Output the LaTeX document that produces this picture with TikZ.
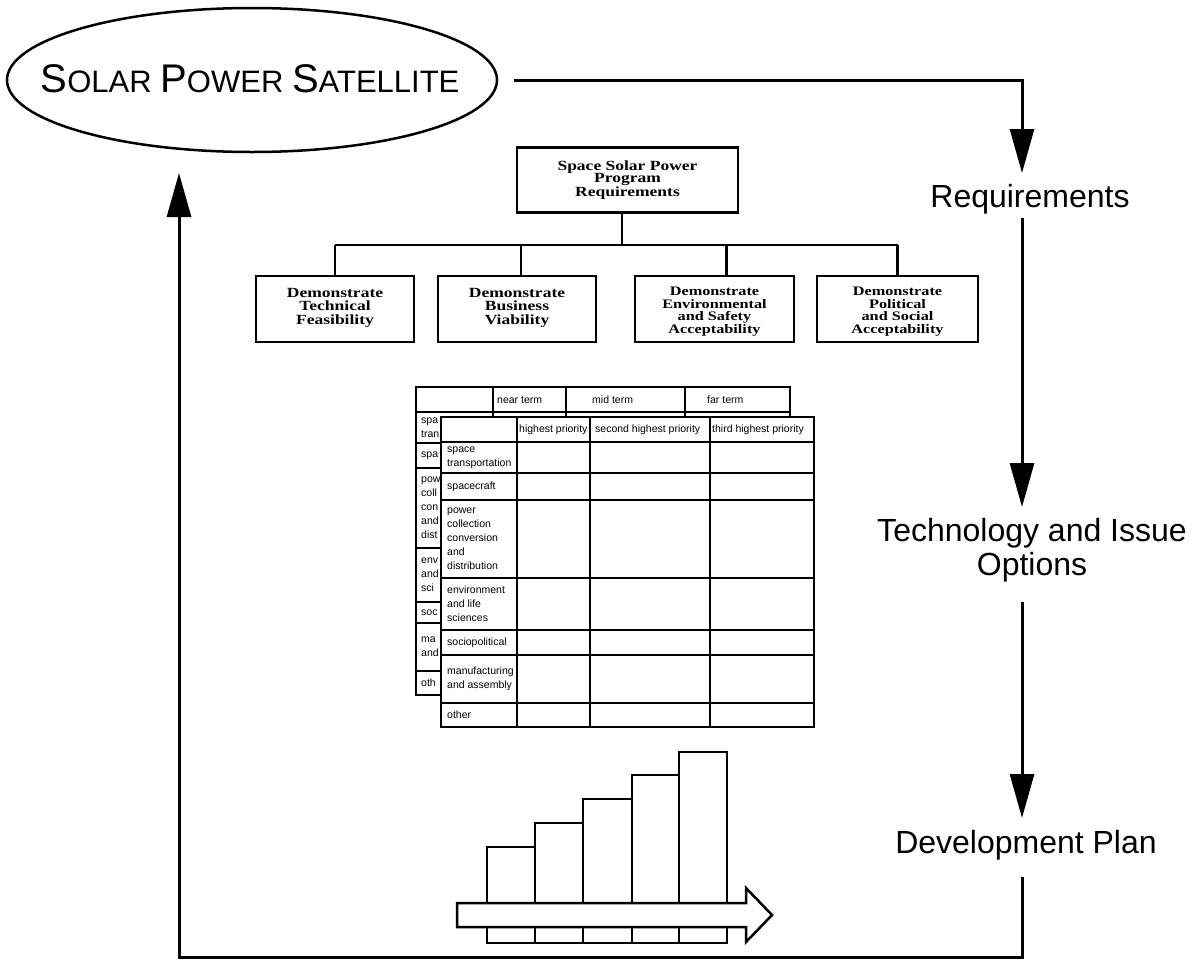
\documentclass[tikz,border=0pt]{standalone}
\usepackage{fontspec}
\setmainfont{Liberation Sans}
\newfontfamily\hfont[FakeStretch=1.25]{Liberation Serif}
\usetikzlibrary{arrows.meta,shapes.geometric}
\begin{document}
\begin{tikzpicture}[x=1pt,y=-1pt,
  conn/.style={line width=3pt},
  arr/.style={-{Triangle[length=44pt,width=24pt]}},
  hbox/.style={draw, line width=2.2pt, inner sep=0pt},
  hl/.style={line width=2.2pt},
  htext/.style={font=\hfont\bfseries\fontsize{14}{13.5}\selectfont, align=center, inner sep=0pt},
  htextb/.style={font=\hfont\bfseries\fontsize{13}{12.5}\selectfont, align=center, inner sep=0pt},
  tbl/.style={line width=1.8pt},
  ttext/.style={font=\fontsize{10.5}{14}\selectfont, align=left, inner sep=0pt, anchor=west},
  lbl/.style={font=\fontsize{32}{34}\selectfont, align=center, inner sep=0pt},
  bar/.style={draw, line width=2.8pt, fill=white}
]
\useasboundingbox (0,0) rectangle (1196,964);
\fill[white] (0,0) rectangle (1196,964);

% ---- ellipse
\node[draw, ellipse, line width=2.5pt, minimum width=490pt, minimum height=144pt, inner sep=0pt] (sps) at (252,80) {};
\node[anchor=base, inner sep=0pt] (spst) at (250,92) {\fontsize{40}{40}\selectfont S\fontsize{31}{31}\selectfont OLAR \fontsize{40}{40}\selectfont P\fontsize{31}{31}\selectfont OWER \fontsize{40}{40}\selectfont S\fontsize{31}{31}\selectfont ATELLITE};

% ---- right labels
\node[lbl, anchor=base] (req) at (1030,207) {Requirements};
\node[lbl] (tech) at (1032,550) {Technology and Issue\\Options};
\node[lbl, anchor=base] (dev) at (1026,853) {Development Plan};

% ---- cycle connectors
\coordinate (t1) at (1022,173);
\coordinate (s2) at (1022,218);
\coordinate (t2) at (1022,507);
\coordinate (s3) at (1022,602);
\coordinate (t3) at (1022,818);
\coordinate (s4) at (1022,877);
\coordinate (b2) at (179,957);
\coordinate (t4) at (179,173);
\draw[conn,arr] ([xshift=16pt]sps.east) -| (t1);
\draw[conn,arr] (s2) -- (t2);
\draw[conn,arr] (s3) -- (t3);
\draw[conn,arr] (s4) |- (b2) -- (t4);

% ---- hierarchy
\node[hbox, minimum width=221pt, minimum height=65pt, htext, font=\hfont\bfseries\fontsize{14}{12.5}\selectfont] (ssp) at (627.5,180) {Space Solar Power\\Program\\Requirements};
\node[hbox, minimum width=158pt, minimum height=66pt] (d1) at (335,309) {};
\node[hbox, minimum width=158pt, minimum height=66pt] (d2) at (517,309) {};
\node[hbox, minimum width=159pt, minimum height=66pt] (d3) at (714.5,309) {};
\node[hbox, minimum width=161pt, minimum height=66pt] (d4) at (897.5,309) {};
\node[htext, anchor=north] (d1t) at ([yshift=-13pt]d1.north) {Demonstrate\\Technical\\Feasibility};
\node[htext, anchor=north] (d2t) at ([yshift=-13pt]d2.north) {Demonstrate\\Business\\Viability};
\node[htextb, anchor=north] (d3t) at ([yshift=-12pt]d3.north) {Demonstrate\\Environmental\\and Safety\\Acceptability};
\node[htextb, anchor=north] (d4t) at ([yshift=-12pt]d4.north) {Demonstrate\\Political\\and Social\\Acceptability};
\coordinate (hb) at (622,245);
\draw[hl] ([xshift=-5.5pt]ssp.south) -- (hb);
\draw[hl] (d1.north |- hb) -- (d4.north |- hb);
\draw[hl] (d1.north |- hb) -- (d1.north);
\draw[hl] ([xshift=4pt]d2.north |- hb) -- ([xshift=4pt]d2.north);
\draw[hl] ([xshift=12pt]d3.north |- hb) -- ([xshift=12pt]d3.north);
\draw[hl] (d4.north |- hb) -- (d4.north);

% ---- back table
\draw[tbl] (416,387) rectangle (790,695);
\foreach \yy in {412,443,468,548,602,623,671} \draw[tbl] (416,\yy) -- (790,\yy);
\foreach \xx in {493,566,685} \draw[tbl] (\xx,387) -- (\xx,695);
\node[ttext] (bh1) at (497,400) {near term};
\node[ttext] (bh2) at (592,400) {mid term};
\node[ttext] (bh3) at (707,400) {far term};
\begin{scope}
\clip (416,380) rectangle (441,700);
\node[ttext] (br1) at (421,427.5) {spa\\tran};
\node[ttext] (br2) at (421,455.5) {spa};
\node[ttext] (br3) at (421,508) {pow\\coll\\con\\and\\dist};
\node[ttext] (br4) at (421,575) {env\\and\\sci};
\node[ttext] (br5) at (421,612.5) {soc};
\node[ttext] (br6) at (421,647) {ma\\and};
\node[ttext] (br7) at (421,683) {oth};
\end{scope}

% ---- front table
\draw[tbl, fill=white] (441,417) rectangle (814,727);
\foreach \yy in {442,473,500,578,630,655,703} \draw[tbl] (441,\yy) -- (814,\yy);
\foreach \xx in {517,590,710} \draw[tbl] (\xx,417) -- (\xx,727);
\node[ttext] (fh1) at (519,430) {highest priority};
\node[ttext] (fh2) at (595,430) {second highest priority};
\node[ttext] (fh3) at (712,430) {third highest priority};
\node[ttext] (fr1) at (447,457.5) {space\\transportation};
\node[ttext] (fr2) at (447,486.5) {spacecraft};
\node[ttext] (fr3) at (447,539) {power\\collection\\conversion\\and\\distribution};
\node[ttext] (fr4) at (447,604) {environment\\and life\\sciences};
\node[ttext] (fr5) at (447,642.5) {sociopolitical};
\node[ttext] (fr6) at (447,679) {manufacturing\\and assembly};
\node[ttext] (fr7) at (447,715) {other};

% ---- bar chart
\draw[bar] (487,847) rectangle (535,943);
\draw[bar] (535,823) rectangle (583,943);
\draw[bar] (583,799) rectangle (632,943);
\draw[bar] (632,775) rectangle (679,943);
\draw[bar] (679,752) rectangle (727,943);
\draw[line width=2.5pt, fill=white, line join=miter] (457,903) -- (746,903) -- (746,888) -- (772,915) -- (746,942) -- (746,927) -- (457,927) -- cycle;
\end{tikzpicture}
\end{document}
